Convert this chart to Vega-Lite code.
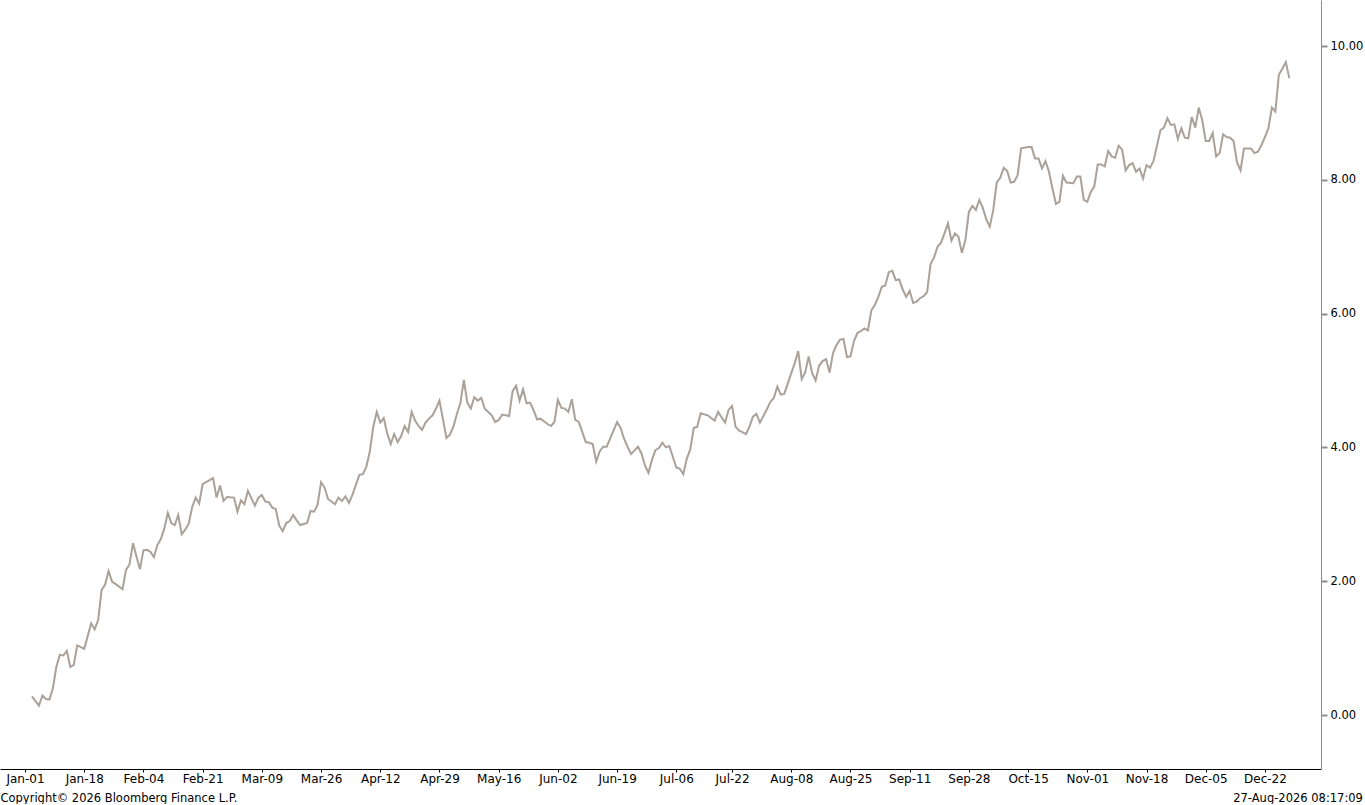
{
"$schema": "https://vega.github.io/schema/vega-lite/v6.json",
"width": 1321, "height": 769,
"padding": {"left": 0, "top": 0, "right": 0, "bottom": 0},
"autosize": {"type": "pad"},
"background": "white",
"config": {"view": {"stroke": null}, "font": "DejaVu Sans"},
"title": {"text": "27-Aug-2026 08:17:09", "orient": "bottom", "anchor": "end", "frame": "bounds", "fontSize": 11.5, "fontWeight": "normal", "color": "#000000", "offset": 0, "dy": -11},
"data": {"values": [
{"date":"2024-01-03","value":0.28},{"date":"2024-01-05","value":0.14},{"date":"2024-01-06","value":0.29},{"date":"2024-01-07","value":0.24},{"date":"2024-01-08","value":0.23},{"date":"2024-01-09","value":0.40},{"date":"2024-01-10","value":0.72},{"date":"2024-01-11","value":0.90},{"date":"2024-01-12","value":0.89},{"date":"2024-01-13","value":0.96},{"date":"2024-01-14","value":0.72},{"date":"2024-01-15","value":0.75},{"date":"2024-01-16","value":1.04},{"date":"2024-01-18","value":0.99},{"date":"2024-01-20","value":1.37},{"date":"2024-01-21","value":1.28},{"date":"2024-01-22","value":1.42},{"date":"2024-01-23","value":1.87},{"date":"2024-01-24","value":1.95},{"date":"2024-01-25","value":2.15},{"date":"2024-01-26","value":1.99},{"date":"2024-01-27","value":1.96},{"date":"2024-01-29","value":1.88},{"date":"2024-01-30","value":2.17},{"date":"2024-01-31","value":2.25},
{"date":"2024-02-01","value":2.57},{"date":"2024-02-02","value":2.37},{"date":"2024-02-03","value":2.18},{"date":"2024-02-04","value":2.46},{"date":"2024-02-05","value":2.47},{"date":"2024-02-06","value":2.44},{"date":"2024-02-07","value":2.36},{"date":"2024-02-08","value":2.54},{"date":"2024-02-09","value":2.63},{"date":"2024-02-10","value":2.79},{"date":"2024-02-11","value":3.02},{"date":"2024-02-12","value":2.87},{"date":"2024-02-13","value":2.84},{"date":"2024-02-14","value":2.99},{"date":"2024-02-15","value":2.70},{"date":"2024-02-16","value":2.77},{"date":"2024-02-17","value":2.86},{"date":"2024-02-18","value":3.11},{"date":"2024-02-19","value":3.25},{"date":"2024-02-20","value":3.16},{"date":"2024-02-21","value":3.45},{"date":"2024-02-22","value":3.48},{"date":"2024-02-24","value":3.54},{"date":"2024-02-25","value":3.25},{"date":"2024-02-26","value":3.43},{"date":"2024-02-27","value":3.20},{"date":"2024-02-28","value":3.26},
{"date":"2024-03-01","value":3.25},{"date":"2024-03-02","value":3.04},{"date":"2024-03-03","value":3.21},{"date":"2024-03-04","value":3.15},{"date":"2024-03-05","value":3.35},{"date":"2024-03-07","value":3.13},{"date":"2024-03-08","value":3.25},{"date":"2024-03-09","value":3.29},{"date":"2024-03-10","value":3.19},{"date":"2024-03-11","value":3.18},{"date":"2024-03-12","value":3.10},{"date":"2024-03-13","value":3.08},{"date":"2024-03-14","value":2.83},{"date":"2024-03-15","value":2.75},{"date":"2024-03-16","value":2.87},{"date":"2024-03-17","value":2.90},{"date":"2024-03-18","value":2.99},{"date":"2024-03-19","value":2.91},{"date":"2024-03-20","value":2.84},{"date":"2024-03-22","value":2.87},{"date":"2024-03-23","value":3.05},{"date":"2024-03-24","value":3.04},{"date":"2024-03-25","value":3.14},{"date":"2024-03-26","value":3.48},{"date":"2024-03-27","value":3.40},{"date":"2024-03-28","value":3.23},{"date":"2024-03-30","value":3.15},{"date":"2024-03-31","value":3.25},
{"date":"2024-04-01","value":3.20},{"date":"2024-04-02","value":3.27},{"date":"2024-04-03","value":3.17},{"date":"2024-04-04","value":3.29},{"date":"2024-04-06","value":3.59},{"date":"2024-04-07","value":3.60},{"date":"2024-04-08","value":3.71},{"date":"2024-04-09","value":3.94},{"date":"2024-04-10","value":4.31},{"date":"2024-04-11","value":4.53},{"date":"2024-04-12","value":4.37},{"date":"2024-04-13","value":4.44},{"date":"2024-04-14","value":4.21},{"date":"2024-04-15","value":4.05},{"date":"2024-04-16","value":4.20},{"date":"2024-04-17","value":4.08},{"date":"2024-04-18","value":4.17},{"date":"2024-04-19","value":4.32},{"date":"2024-04-20","value":4.23},{"date":"2024-04-21","value":4.53},{"date":"2024-04-22","value":4.40},{"date":"2024-04-23","value":4.32},{"date":"2024-04-24","value":4.26},{"date":"2024-04-25","value":4.37},{"date":"2024-04-26","value":4.43},{"date":"2024-04-27","value":4.48},{"date":"2024-04-28","value":4.58},{"date":"2024-04-29","value":4.70},
{"date":"2024-05-01","value":4.14},{"date":"2024-05-02","value":4.19},{"date":"2024-05-03","value":4.31},{"date":"2024-05-04","value":4.50},{"date":"2024-05-05","value":4.66},{"date":"2024-05-06","value":5.01},{"date":"2024-05-07","value":4.67},{"date":"2024-05-08","value":4.58},{"date":"2024-05-09","value":4.75},{"date":"2024-05-10","value":4.70},{"date":"2024-05-11","value":4.74},{"date":"2024-05-12","value":4.58},{"date":"2024-05-13","value":4.53},{"date":"2024-05-14","value":4.48},{"date":"2024-05-15","value":4.38},{"date":"2024-05-16","value":4.41},{"date":"2024-05-17","value":4.49},{"date":"2024-05-19","value":4.47},{"date":"2024-05-20","value":4.84},{"date":"2024-05-21","value":4.92},{"date":"2024-05-22","value":4.70},{"date":"2024-05-23","value":4.87},{"date":"2024-05-24","value":4.66},{"date":"2024-05-25","value":4.67},{"date":"2024-05-26","value":4.56},{"date":"2024-05-27","value":4.42},{"date":"2024-05-28","value":4.43},{"date":"2024-05-29","value":4.39},{"date":"2024-05-30","value":4.35},{"date":"2024-05-31","value":4.32},
{"date":"2024-06-01","value":4.38},{"date":"2024-06-02","value":4.71},{"date":"2024-06-03","value":4.59},{"date":"2024-06-04","value":4.58},{"date":"2024-06-05","value":4.53},{"date":"2024-06-06","value":4.72},{"date":"2024-06-07","value":4.41},{"date":"2024-06-08","value":4.38},{"date":"2024-06-10","value":4.08},{"date":"2024-06-11","value":4.07},{"date":"2024-06-12","value":4.05},{"date":"2024-06-13","value":3.79},{"date":"2024-06-14","value":3.94},{"date":"2024-06-15","value":4.01},{"date":"2024-06-16","value":4.01},{"date":"2024-06-17","value":4.13},{"date":"2024-06-19","value":4.38},{"date":"2024-06-20","value":4.29},{"date":"2024-06-21","value":4.13},{"date":"2024-06-22","value":4.01},{"date":"2024-06-23","value":3.90},{"date":"2024-06-25","value":4.01},{"date":"2024-06-26","value":3.91},{"date":"2024-06-27","value":3.73},{"date":"2024-06-28","value":3.62},{"date":"2024-06-29","value":3.81},{"date":"2024-06-30","value":3.96},
{"date":"2024-07-01","value":3.99},{"date":"2024-07-02","value":4.07},{"date":"2024-07-03","value":4.00},{"date":"2024-07-04","value":4.02},{"date":"2024-07-05","value":3.86},{"date":"2024-07-06","value":3.70},{"date":"2024-07-07","value":3.68},{"date":"2024-07-08","value":3.60},{"date":"2024-07-09","value":3.83},{"date":"2024-07-10","value":3.97},{"date":"2024-07-11","value":4.29},{"date":"2024-07-12","value":4.31},{"date":"2024-07-13","value":4.51},{"date":"2024-07-15","value":4.48},{"date":"2024-07-17","value":4.40},{"date":"2024-07-18","value":4.53},{"date":"2024-07-20","value":4.37},{"date":"2024-07-21","value":4.56},{"date":"2024-07-22","value":4.62},{"date":"2024-07-23","value":4.31},{"date":"2024-07-24","value":4.25},{"date":"2024-07-25","value":4.23},{"date":"2024-07-26","value":4.20},{"date":"2024-07-27","value":4.31},{"date":"2024-07-28","value":4.46},{"date":"2024-07-29","value":4.50},{"date":"2024-07-30","value":4.37},
{"date":"2024-08-01","value":4.57},{"date":"2024-08-02","value":4.68},{"date":"2024-08-03","value":4.74},{"date":"2024-08-04","value":4.91},{"date":"2024-08-05","value":4.79},{"date":"2024-08-06","value":4.80},{"date":"2024-08-08","value":5.11},{"date":"2024-08-09","value":5.26},{"date":"2024-08-10","value":5.44},{"date":"2024-08-11","value":5.02},{"date":"2024-08-12","value":5.12},{"date":"2024-08-13","value":5.36},{"date":"2024-08-14","value":5.11},{"date":"2024-08-15","value":5.00},{"date":"2024-08-16","value":5.22},{"date":"2024-08-17","value":5.29},{"date":"2024-08-18","value":5.32},{"date":"2024-08-19","value":5.12},{"date":"2024-08-20","value":5.41},{"date":"2024-08-21","value":5.53},{"date":"2024-08-22","value":5.61},{"date":"2024-08-23","value":5.62},{"date":"2024-08-24","value":5.35},{"date":"2024-08-25","value":5.36},{"date":"2024-08-26","value":5.59},{"date":"2024-08-27","value":5.71},{"date":"2024-08-28","value":5.74},{"date":"2024-08-29","value":5.78},{"date":"2024-08-30","value":5.75},{"date":"2024-08-31","value":6.05},
{"date":"2024-09-01","value":6.13},{"date":"2024-09-02","value":6.25},{"date":"2024-09-03","value":6.40},{"date":"2024-09-04","value":6.42},{"date":"2024-09-05","value":6.62},{"date":"2024-09-06","value":6.64},{"date":"2024-09-07","value":6.50},{"date":"2024-09-08","value":6.51},{"date":"2024-09-09","value":6.36},{"date":"2024-09-10","value":6.25},{"date":"2024-09-11","value":6.34},{"date":"2024-09-12","value":6.16},{"date":"2024-09-13","value":6.18},{"date":"2024-09-14","value":6.23},{"date":"2024-09-15","value":6.26},{"date":"2024-09-16","value":6.32},{"date":"2024-09-17","value":6.74},{"date":"2024-09-18","value":6.84},{"date":"2024-09-19","value":7.00},{"date":"2024-09-20","value":7.06},{"date":"2024-09-21","value":7.20},{"date":"2024-09-22","value":7.35},{"date":"2024-09-23","value":7.09},{"date":"2024-09-24","value":7.20},{"date":"2024-09-25","value":7.15},{"date":"2024-09-26","value":6.91},{"date":"2024-09-27","value":7.10},{"date":"2024-09-28","value":7.52},{"date":"2024-09-29","value":7.61},{"date":"2024-09-30","value":7.55},
{"date":"2024-10-01","value":7.70},{"date":"2024-10-02","value":7.58},{"date":"2024-10-03","value":7.41},{"date":"2024-10-04","value":7.30},{"date":"2024-10-05","value":7.55},{"date":"2024-10-06","value":7.96},{"date":"2024-10-07","value":8.03},{"date":"2024-10-08","value":8.18},{"date":"2024-10-09","value":8.13},{"date":"2024-10-10","value":7.96},{"date":"2024-10-11","value":7.97},{"date":"2024-10-12","value":8.07},{"date":"2024-10-13","value":8.47},{"date":"2024-10-15","value":8.49},{"date":"2024-10-16","value":8.49},{"date":"2024-10-17","value":8.32},{"date":"2024-10-18","value":8.32},{"date":"2024-10-19","value":8.17},{"date":"2024-10-20","value":8.28},{"date":"2024-10-21","value":8.12},{"date":"2024-10-22","value":7.87},{"date":"2024-10-23","value":7.64},{"date":"2024-10-24","value":7.67},{"date":"2024-10-25","value":8.06},{"date":"2024-10-26","value":7.96},{"date":"2024-10-28","value":7.95},{"date":"2024-10-29","value":8.05},{"date":"2024-10-30","value":8.05},{"date":"2024-10-31","value":7.70},
{"date":"2024-11-01","value":7.67},{"date":"2024-11-02","value":7.82},{"date":"2024-11-03","value":7.90},{"date":"2024-11-04","value":8.23},{"date":"2024-11-05","value":8.23},{"date":"2024-11-06","value":8.20},{"date":"2024-11-07","value":8.43},{"date":"2024-11-08","value":8.35},{"date":"2024-11-09","value":8.33},{"date":"2024-11-10","value":8.51},{"date":"2024-11-11","value":8.45},{"date":"2024-11-12","value":8.14},{"date":"2024-11-13","value":8.22},{"date":"2024-11-14","value":8.25},{"date":"2024-11-15","value":8.12},{"date":"2024-11-16","value":8.17},{"date":"2024-11-17","value":8.02},{"date":"2024-11-18","value":8.22},{"date":"2024-11-19","value":8.18},{"date":"2024-11-20","value":8.28},{"date":"2024-11-21","value":8.51},{"date":"2024-11-22","value":8.74},{"date":"2024-11-23","value":8.78},{"date":"2024-11-24","value":8.92},{"date":"2024-11-25","value":8.82},{"date":"2024-11-26","value":8.83},{"date":"2024-11-27","value":8.61},{"date":"2024-11-28","value":8.77},{"date":"2024-11-29","value":8.63},{"date":"2024-11-30","value":8.62},
{"date":"2024-12-01","value":8.94},{"date":"2024-12-02","value":8.78},{"date":"2024-12-03","value":9.08},{"date":"2024-12-04","value":8.89},{"date":"2024-12-05","value":8.58},{"date":"2024-12-06","value":8.58},{"date":"2024-12-07","value":8.70},{"date":"2024-12-08","value":8.35},{"date":"2024-12-09","value":8.40},{"date":"2024-12-10","value":8.68},{"date":"2024-12-11","value":8.64},{"date":"2024-12-12","value":8.63},{"date":"2024-12-13","value":8.58},{"date":"2024-12-14","value":8.26},{"date":"2024-12-15","value":8.14},{"date":"2024-12-16","value":8.47},{"date":"2024-12-18","value":8.47},{"date":"2024-12-19","value":8.40},{"date":"2024-12-20","value":8.42},{"date":"2024-12-21","value":8.52},{"date":"2024-12-22","value":8.64},{"date":"2024-12-23","value":8.77},{"date":"2024-12-24","value":9.08},{"date":"2024-12-25","value":9.02},{"date":"2024-12-26","value":9.57},{"date":"2024-12-27","value":9.66},{"date":"2024-12-28","value":9.76},{"date":"2024-12-29","value":9.52}
]},
"mark": {"type": "line", "color": "#aaa199", "strokeWidth": 2},
"encoding": {
"x": {"field": "date", "type": "temporal",
 "scale": {"type": "utc", "domain": [{"year": 2023, "month": 12, "date": 24, "hours": 19, "minutes": 41, "utc": true}, {"year": 2025, "month": 1, "date": 7, "hours": 2, "minutes": 24, "utc": true}]},
 "axis": {"title": "Copyright© 2026 Bloomberg Finance L.P.", "titleAnchor": "start", "titleAlign": "left", "titleFontSize": 11.5, "titleFontWeight": "normal", "titleColor": "#000000", "titlePadding": 8,
  "values": [{"year":2024,"month":1,"date":1,"utc":true},{"year":2024,"month":1,"date":18,"utc":true},{"year":2024,"month":2,"date":4,"utc":true},{"year":2024,"month":2,"date":21,"utc":true},{"year":2024,"month":3,"date":9,"utc":true},{"year":2024,"month":3,"date":26,"utc":true},{"year":2024,"month":4,"date":12,"utc":true},{"year":2024,"month":4,"date":29,"utc":true},{"year":2024,"month":5,"date":16,"utc":true},{"year":2024,"month":6,"date":2,"utc":true},{"year":2024,"month":6,"date":19,"utc":true},{"year":2024,"month":7,"date":6,"utc":true},{"year":2024,"month":7,"date":22,"utc":true},{"year":2024,"month":8,"date":8,"utc":true},{"year":2024,"month":8,"date":25,"utc":true},{"year":2024,"month":9,"date":11,"utc":true},{"year":2024,"month":9,"date":28,"utc":true},{"year":2024,"month":10,"date":15,"utc":true},{"year":2024,"month":11,"date":1,"utc":true},{"year":2024,"month":11,"date":18,"utc":true},{"year":2024,"month":12,"date":5,"utc":true},{"year":2024,"month":12,"date":22,"utc":true}],
  "format": "%b-%d", "labelFontSize": 12, "labelColor": "#000000", "domainColor": "#000000", "tickColor": "#000000", "tickSize": 3, "labelPadding": 1, "grid": false, "labelFlush": false, "labelOverlap": false}},
"y": {"field": "value", "type": "quantitative",
 "scale": {"domain": [-0.807, 10.688], "nice": false, "zero": false},
 "axis": {"orient": "right", "values": [0, 2, 4, 6, 8, 10], "format": ".2f", "title": null, "grid": false, "domainColor": "#8c8c8c", "tickColor": "#8c8c8c", "tickSize": 6, "tickWidth": 2, "labelPadding": 3, "labelFontSize": 11.5, "labelColor": "#000000"}}
}
}
